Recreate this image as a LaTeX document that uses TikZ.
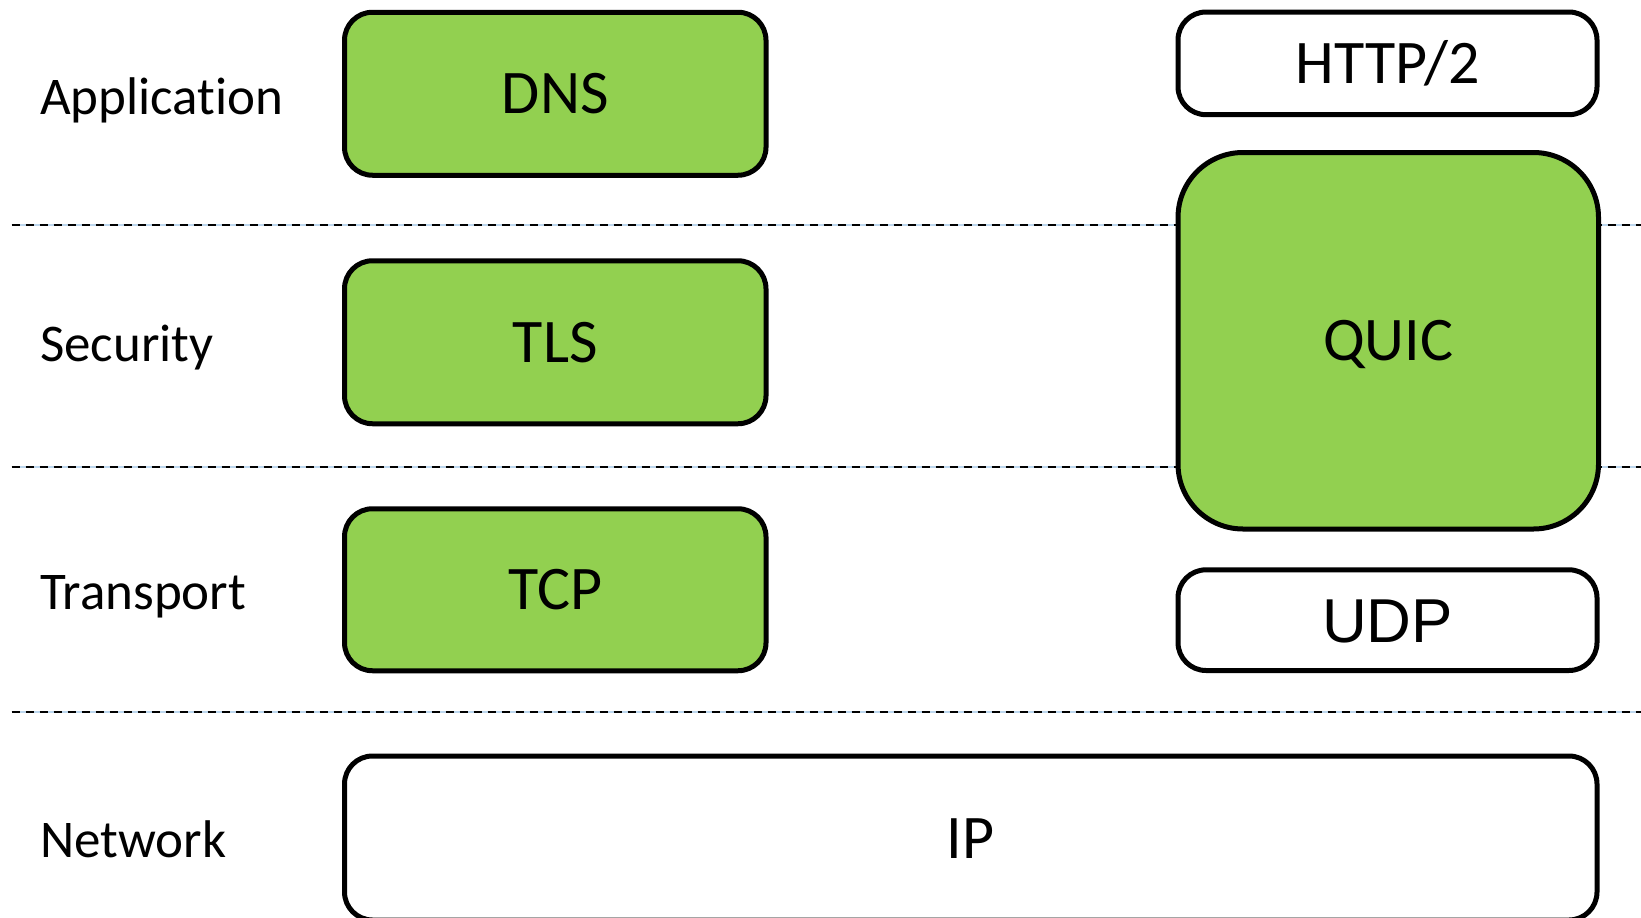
\documentclass[tikz,border=0pt]{standalone}
\usepackage{fontspec}
\setmainfont[Ligatures={NoCommon}]{Carlito}
\newfontfamily\udpfont{Liberation Sans}
\definecolor{layergreen}{HTML}{92D050}
\definecolor{sepblue}{HTML}{BDD7EE}

\begin{document}
\begin{tikzpicture}[x=1pt,y=-1pt,
  layerbox/.style={draw=black, line width=5pt, rounded corners=28pt,
    inner sep=0pt, font=\fontsize{62}{62}\selectfont,
    text height=40pt, text depth=0pt},
  proto/.style={layerbox, fill=layergreen},
  plainproto/.style={layerbox, fill=white},
  layerlabel/.style={anchor=base west, inner sep=0pt,
    font=\fontsize{53}{53}\selectfont},
  sepunder/.style={draw=sepblue, line width=2pt},
  sepline/.style={draw=black, line width=2pt, dash pattern=on 8.3pt off 5.7pt}]

\useasboundingbox (0,0) rectangle (1641,918);

% layer separators (drawn first, so boxes sit on top of them)
\foreach \yy/\nm in {225/a, 467/b, 712/c} {
  \coordinate (sepL\nm) at (11.5,\yy);
  \coordinate (sepR\nm) at (1641,\yy);
  \draw[sepunder] (sepL\nm) -- (sepR\nm);
  \draw[sepline] (sepL\nm) -- (sepR\nm);
}

% layer names
\node[layerlabel] (lapp) at (40,114) {Application};
\node[layerlabel] (lsec) at (40,361) {Security};
\node[layerlabel] (ltra) at (40,609) {Transport};
\node[layerlabel] (lnet) at (40,857) {Network};

% classic stack
\node[proto, minimum width=421.5pt, minimum height=163pt] (dns) at (555.25,93.75) {DNS};
\node[proto, minimum width=421.5pt, minimum height=163pt] (tls) at (555.25,342.25) {TLS};
\node[proto, minimum width=421.5pt, minimum height=162pt] (tcp) at (555.25,589.75) {TCP};

% QUIC stack
\node[plainproto, minimum width=419pt, minimum height=102.7pt] (http) at (1387.5,63.35) {HTTP/2};
\node[proto, rounded corners=65pt, minimum width=420.5pt, minimum height=376.5pt] (quic) at (1388.25,340.75) {QUIC};
\node[plainproto, minimum width=419pt, minimum height=100.7pt,
  font=\udpfont\fontsize{62}{62}\selectfont, text height=44.5pt] (udp) at (1387.5,620.15) {UDP};

% shared network layer
\node[plainproto, minimum width=1252.5pt, minimum height=164pt] (ip) at (970.75,838) {IP};

\end{tikzpicture}
\end{document}
